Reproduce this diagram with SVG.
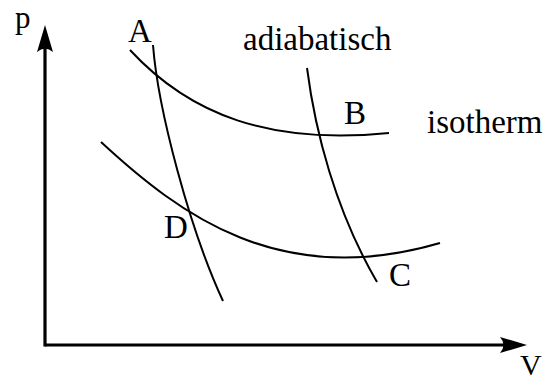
<svg xmlns="http://www.w3.org/2000/svg" width="547" height="381" viewBox="0 0 547 381">
<style>
.lbl{font-family:"Liberation Serif","Times New Roman",serif;font-size:33px;fill:#000}
.crv{fill:none;stroke:#000;stroke-width:2}
.axis{fill:none;stroke:#000;stroke-width:3.2}
</style>
<defs>
<marker id="arr" viewBox="0 -10 30 20" markerWidth="30" markerHeight="20" refX="12" refY="0" orient="auto" markerUnits="userSpaceOnUse">
<path d="M0,-8 Q7,0 0,8 L27,0 Z" fill="#000"/>
</marker>
</defs>
<g id="axes">
<path class="axis" d="M45,345 L512,345" marker-end="url(#arr)"/>
<path class="axis" d="M45,346.6 L45,40" marker-end="url(#arr)"/>
</g>
<g id="curves">
<path id="isotherm-upper" class="crv" d="M130,50 C190,115 270,145 389,133"/>
<path id="isotherm-lower" class="crv" d="M101,142 C180,215 280,290 440,243"/>
<path id="adiabat-left" class="crv" d="M153,45 C158,110 190,230 223,301"/>
<path id="adiabat-right" class="crv" d="M307,68 C315,130 335,210 377,282"/>
</g>
<g id="labels">
<text class="lbl" x="15" y="28" style="font-size:31px">p</text>
<text class="lbl" x="520" y="374.5" style="font-size:30px">V</text>
<text class="lbl" x="128" y="41.5">A</text>
<text class="lbl" x="344" y="124">B</text>
<text class="lbl" x="389" y="286">C</text>
<text class="lbl" x="164" y="238">D</text>
<text class="lbl" x="243" y="49.5">adiabatisch</text>
<text class="lbl" x="427" y="133">isotherm</text>
</g>
</svg>
